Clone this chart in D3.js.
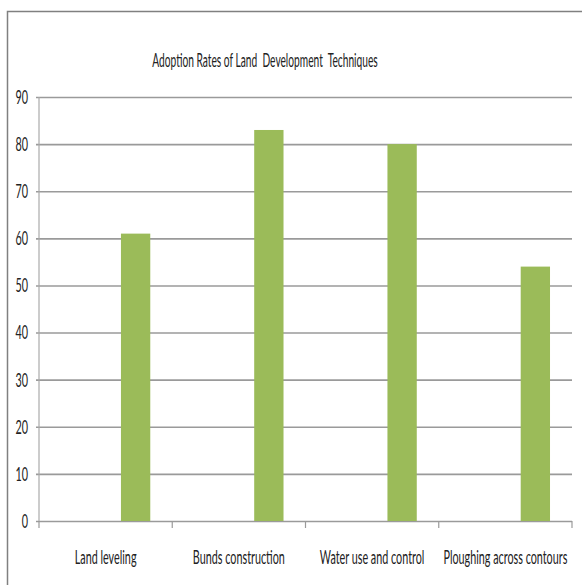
<!DOCTYPE html>
<html>
<head>
<meta charset="utf-8">
<script src="https://cdn.jsdelivr.net/npm/d3@7"></script>
<style>
  body { margin: 0; background: #fff; }
  text { font-family: Lato, "Open Sans", sans-serif; fill: #222; }
</style>
</head>
<body>
<div id="chart"></div>
<script>
// Chart data
const categories = ["Land leveling", "Bunds construction", "Water use and control", "Ploughing across contours"];
const adoptionValues = [61, 83, 80, 54];
const yTicks = [0, 10, 20, 30, 40, 50, 60, 70, 80, 90];
const chartTitle = "Adoption Rates of Land  Development  Techniques";

//Overall size and plot area
const W = 582, H = 585;
const margin = {left: 39, right: 10, top: 97, bottom: 64};
const width = W - margin.left - margin.right;
const height = H - margin.top - margin.bottom;
const squeeze = 0.54; //horizontal squash to mimic the narrow font
const titleSqueeze = 0.51;

const svg = d3.select("#chart")
    .append("svg")
    .attr("width", W)
    .attr("height", H)
    .style("font-size", "20px");

//Outer chart border (runs off the right and bottom edge)
svg.append("rect")
    .attr("x", 7.5)
    .attr("y", 11.5)
    .attr("width", 700)
    .attr("height", 700)
    .attr("fill", "none")
    .attr("stroke", "#808080")
    .attr("stroke-width", 1.5);

//Title
svg.append("g")
    .attr("transform", `translate(265,60) scale(${titleSqueeze},1)`)
    .append("text")
    .attr("text-anchor", "middle")
    .attr("dy", "0.35em")
    .style("white-space", "pre")
    .text(chartTitle);

const g = svg.append("g")
    .attr("transform", `translate(${margin.left},${margin.top})`);

//Scales
const xScale = d3.scaleBand()
    .domain(categories)
    .range([0, width]);

const yScale = d3.scaleLinear()
    .domain([0, 90])
    .range([height, 0]);

//Gridlines including the short tick stubs left of the axis
const grid = g.append("g")
    .attr("transform", "translate(-3,0)")
    .call(d3.axisRight(yScale).tickValues(yTicks).tickSize(width + 3).tickFormat(""));
grid.select(".domain").remove();
grid.selectAll("line")
    .attr("stroke", "#9a9a9a")
    .attr("stroke-width", 1.6);

//Y tick labels
const yAxis = g.append("g")
    .call(d3.axisLeft(yScale).tickValues(yTicks).tickSize(0).tickPadding(11));
yAxis.select(".domain").remove();
yAxis.selectAll("text")
    .attr("font-size", 20)
    .attr("transform", function () {
        return `translate(${-11 * (1 - squeeze)},0) scale(${squeeze},1)`;
    });

//Y axis line
g.append("line")
    .attr("x1", 0).attr("x2", 0)
    .attr("y1", yScale(90)).attr("y2", yScale(0))
    .attr("stroke", "#aaa")
    .attr("stroke-width", 1.2);

//Category boundary ticks below the baseline
const bounds = categories.map(c => xScale(c)).concat([width]);
g.selectAll(".catTick")
    .data(bounds)
    .enter()
    .append("line")
    .attr("class", "catTick")
    .attr("x1", d => d).attr("x2", d => d)
    .attr("y1", height).attr("y2", height + 7)
    .attr("stroke", "#9a9a9a")
    .attr("stroke-width", 1.2);

//Bars sit on the right part of each category, like a two-series cluster with an empty first series
g.selectAll(".bar")
    .data(adoptionValues)
    .enter()
    .append("rect")
    .attr("class", "bar")
    .attr("x", (d, i) => xScale(categories[i]) + xScale.bandwidth() * 0.615)
    .attr("width", xScale.bandwidth() * 0.22)
    .attr("y", d => yScale(d))
    .attr("height", d => height - yScale(d))
    .attr("fill", "#9bbb59");

//Category labels
g.selectAll(".catLabel")
    .data(categories)
    .enter()
    .append("g")
    .attr("class", "catLabel")
    .attr("transform", d => `translate(${xScale(d) + xScale.bandwidth() / 2},${height + 36}) scale(${squeeze},1)`)
    .append("text")
    .attr("text-anchor", "middle")
    .attr("dy", "0.35em")
    .text(d => d);
</script>
</body>
</html>
